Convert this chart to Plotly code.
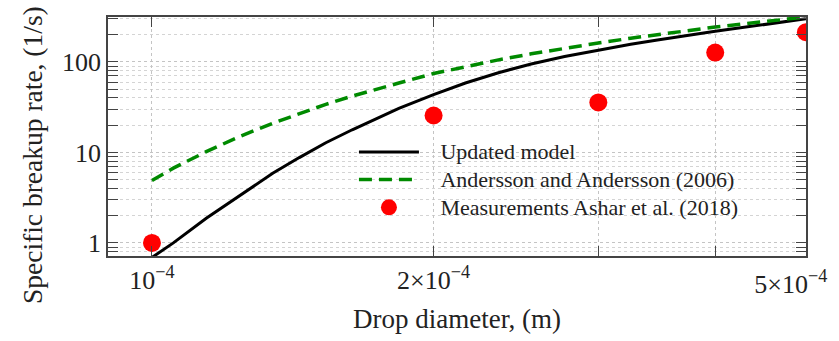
import plotly.graph_objects as go

# Data
model_d = [1.0e-4, 1.054e-4, 1.143e-4, 1.241e-4, 1.346e-4, 1.437e-4, 1.534e-4, 1.637e-4,
           1.836e-4, 2.0e-4, 2.163e-4, 2.346e-4, 2.543e-4, 2.761e-4, 3.0e-4, 3.249e-4,
           3.47e-4, 4.0e-4, 5.0e-4]
model_rate = [0.69, 1.0, 1.87, 3.36, 5.88, 8.77, 12.8, 17.8,
              30.7, 43.6, 58.5, 76.0, 95.0, 115.0, 136.0, 157.0,
              175.0, 218.0, 300.0]

anders_d = [1.0e-4, 1.054e-4, 1.143e-4, 1.241e-4, 1.346e-4, 1.437e-4, 1.534e-4, 1.637e-4,
            1.747e-4, 1.836e-4, 2.0e-4, 2.163e-4, 2.346e-4, 2.543e-4, 2.761e-4, 3.0e-4,
            3.249e-4, 3.47e-4, 4.0e-4, 5.0e-4]
anders_rate = [4.9, 6.7, 10.2, 15.0, 21.0, 27.0, 34.0, 42.0,
               51.0, 58.5, 74.5, 89.0, 105.5, 123.0, 142.0, 162.0,
               183.0, 200.0, 243.0, 314.0]

meas_d = [1.0e-4, 2.0e-4, 3.0e-4, 4.0e-4, 5.0e-4]
meas_rate = [1.0, 25.6, 35.7, 127.0, 213.0]

series_names = ["Updated model", "Andersson and Andersson (2006)", "Measurements Ashar et al. (2018)"]

x_tickvals = [1e-4, 2e-4, 3e-4, 4e-4, 5e-4]
x_ticktext = ["10<sup>−4</sup>", "2×10<sup>−4</sup>", "", "", ""]
x_edge_tickvals = [5e-4]
x_edge_ticktext = ["5×10<sup>−4</sup>"]
y_tickvals = [1, 10, 100]
y_ticktext = ["1", "10", "100"]
y_minor = [0.8, 0.9, 2, 3, 4, 5, 6, 7, 8, 9, 20, 30, 40, 50, 60, 70, 80, 90, 200, 300]

x_title = "Drop diameter, (m)"
y_title = "Specific breakup rate, (1/s)"

FONT = "Liberation Serif, Times New Roman, serif"
GRID = "#c4c4c4"
AX = "#444444"
TXT = "#222222"


def leg(name):
    return '<span style="font-size:22px">&nbsp;&nbsp;&nbsp;' + name + '</span>'


fig = go.Figure()
fig.add_trace(go.Scatter(x=model_d, y=model_rate, mode="lines",
                         line=dict(color="black", width=3),
                         name=leg(series_names[0])))
fig.add_trace(go.Scatter(x=anders_d, y=anders_rate, mode="lines",
                         line=dict(color="#008a00", width=3.5, dash="13px,7px"),
                         name=leg(series_names[1])))
fig.add_trace(go.Scatter(x=meas_d, y=meas_rate, mode="markers",
                         marker=dict(color="#ff0000", size=18),
                         name=leg(series_names[2])))
# empty trace to anchor the secondary (label-only) x axis
fig.add_trace(go.Scatter(x=[], y=[], xaxis="x2", yaxis="y", showlegend=False, hoverinfo="skip"))

L, R, T, B = 108, 30, 17, 81
W, H = 839, 341
pw, ph = W - L - R, H - T - B

# white backdrop behind legend (hides grid, stays under the data)
fig.add_shape(type="rect", xref="paper", yref="paper", layer="between",
              x0=(333 - L) / pw, x1=(783 - L) / pw,
              y0=(T + ph - 231) / ph, y1=(T + ph - 117) / ph,
              fillcolor="white", line=dict(width=0))

fig.add_annotation(text=y_title, textangle=-90, xref="paper", yref="paper",
                   x=(32 - L) / pw, y=(T + ph - 157) / ph, xanchor="center", yanchor="middle",
                   showarrow=False, font=dict(size=27.5, family=FONT, color=TXT))

xr = [-4.047, -3.3009]
fig.update_layout(
    width=W, height=H,
    margin=dict(l=L, r=R, t=T, b=B),
    paper_bgcolor="white", plot_bgcolor="white",
    font=dict(family=FONT, size=26, color=TXT),
    legend=dict(x=(355 - L) / pw, y=(T + ph - 135) / ph, xanchor="left", yanchor="top",
                bgcolor="rgba(0,0,0,0)", font=dict(size=19, family=FONT, color=TXT),
                itemwidth=60, tracegroupgap=0),
    xaxis=dict(
        type="log", range=xr,
        tickvals=x_tickvals, ticktext=x_ticktext,
        ticks="inside", ticklen=10, tickwidth=1.2, tickcolor=AX,
        showline=True, linecolor=AX, linewidth=1.5, mirror="allticks",
        showgrid=True, gridcolor=GRID, griddash="dot", gridwidth=1,
        zeroline=False,
        tickfont=dict(size=26, family=FONT),
        title=dict(text=x_title, font=dict(size=27, family=FONT), standoff=15),
    ),
    xaxis2=dict(
        type="log", range=xr, overlaying="x", side="bottom", anchor="y",
        tickvals=x_edge_tickvals, ticktext=x_edge_ticktext,
        ticks="", showline=False, showgrid=False, zeroline=False,
        ticklabelshift=-15, ticklabelstandoff=10,
        tickfont=dict(size=26, family=FONT),
    ),
    yaxis=dict(
        type="log", range=[-0.145, 2.497],
        tickvals=y_tickvals, ticktext=y_ticktext,
        ticks="inside", ticklen=10, tickwidth=1.2, tickcolor=AX,
        showline=True, linecolor=AX, linewidth=1.5, mirror="allticks",
        showgrid=True, gridcolor=GRID, griddash="dot", gridwidth=1,
        minor=dict(tickvals=y_minor, ticks="inside", ticklen=6, tickcolor=AX,
                   showgrid=True, gridcolor="#d4d4d4", griddash="dot", gridwidth=1),
        zeroline=False,
        tickfont=dict(size=26, family=FONT),
    ),
)

fig.write_html("out.html")
